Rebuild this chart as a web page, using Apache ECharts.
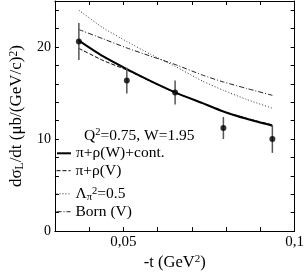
<!DOCTYPE html>
<html>
<head>
<meta charset="utf-8">
<script src="https://cdn.jsdelivr.net/npm/echarts@6/dist/echarts.min.js"></script>
<style>
html,body{margin:0;padding:0;background:#fff;}
#chart{width:307px;height:276px;}
</style>
</head>
<body>
<div id="chart"></div>
<script>
// ---- data ----
const tCurve = [0.037, 0.044, 0.051, 0.058, 0.0651, 0.0731, 0.0792, 0.086, 0.0935];
const fullModel = [20.7, 19.0, 17.6, 16.3, 15.08, 13.9, 13.0, 12.2, 11.45];
const rhoV = [19.85, 18.55, 17.5, 16.25, 15.05, 13.9, 13.0, 12.25, 11.55];
const lambda05 = [24.0, 22.1, 20.6, 19.2, 17.9, 16.3, 15.3, 14.3, 13.35];
const bornV = [21.9, 20.9, 19.9, 19.0, 18.1, 16.95, 16.2, 15.5, 14.75];

const tData = [0.037, 0.051, 0.0651, 0.0792, 0.0935];
const sigmaData = [20.6, 16.35, 15.05, 11.2, 10.0];
const sigmaErr = [2.0, 1.4, 1.3, 1.2, 1.5];

const xTickLabels = [0.05, 0.1];
const yTickLabels = [0, 10, 20];

const seriesNames = ['π+ρ(W)+cont.', 'π+ρ(V)', 'Λπ2=0.5', 'Born (V)'];
// ---------------

const FONT = "'Liberation Serif', 'DejaVu Serif', serif";
const pair = (xs, ys) => xs.map((x, i) => [x, ys[i]]);

function makeRich(size, small, shift) {
  return {
    n: {fontFamily: FONT, fontSize: size, color: '#000'},
    sup: {fontFamily: FONT, fontSize: small, color: '#000', verticalAlign: 'top', padding: [0, 0, shift, 0]},
    sub: {fontFamily: FONT, fontSize: small, color: '#000', verticalAlign: 'bottom', padding: [shift, 0, 0, 0]}
  };
}
const richLegend = makeRich(15.5, 10.5, 6);
const richAxis = makeRich(16.5, 11, 6);
const richY = makeRich(17, 11.5, 6);

function legendFmt(name) {
  if (name === 'Λπ2=0.5') return '{n|Λ}{sub|π}{sup|2}{n|=0.5}';
  return '{n|' + name + '}';
}

const legendRows = [152.3, 169.7, 192.3, 210.7];
const legendWidths = [2, 1, 1, 1];
const legends = seriesNames.map((nm, i) => ({
  data: [nm],
  left: 56,
  top: legendRows[i] - 7,
  itemWidth: 14,
  itemHeight: 14,
  padding: 0,
  selectedMode: false,
  formatter: legendFmt,
  textStyle: {fontFamily: FONT, fontSize: 15.5, color: '#000', rich: richLegend},
  itemStyle: {opacity: 0, color: 'transparent', borderWidth: 0},
  lineStyle: {width: legendWidths[i]}
}));

const axisBase = {
  type: 'value',
  axisLine: {show: true, onZero: false, lineStyle: {color: '#000', width: 1}},
  axisTick: {show: true, inside: true, length: 4, lineStyle: {color: '#000', width: 1}},
  splitLine: {show: false}
};

const chart = echarts.init(document.getElementById('chart'), null, {renderer: 'canvas'});
chart.setOption({
  animation: false,
  backgroundColor: '#fff',
  grid: {left: 47, right: 11, top: 1, bottom: 40, containLabel: false},
  title: {
    text: '{n|Q}{sup|2}{n|=0.75, W=1.95}',
    left: 84,
    top: 127,
    padding: 0,
    textStyle: {fontFamily: FONT, fontSize: 15.5, color: '#000', fontWeight: 'normal', rich: richLegend}
  },
  legend: legends,
  xAxis: [
    Object.assign({}, axisBase, {
      position: 'bottom', min: 0.03, max: 0.1, interval: 0.01,
      axisLabel: {
        show: true, customValues: xTickLabels, margin: 3,
        fontFamily: FONT, fontSize: 15, color: '#000',
        formatter: v => String(+v.toFixed(2)).replace('.', ',')
      },
      name: '{n|-t (GeV}{sup|2}{n|)}',
      nameLocation: 'middle',
      nameGap: 14,
      nameTextStyle: {fontFamily: FONT, fontSize: 16.5, color: '#000', rich: richAxis, verticalAlign: 'top'}
    }),
    Object.assign({}, axisBase, {
      position: 'top', min: 0.03, max: 0.1, interval: 0.01,
      axisLabel: {show: false}
    })
  ],
  yAxis: [
    Object.assign({}, axisBase, {
      position: 'left', min: 0, max: 25, interval: 2,
      axisLabel: {
        show: true, customValues: yTickLabels, margin: 4,
        fontFamily: FONT, fontSize: 14, color: '#000'
      },
      name: '{n|dσ}{sub|L}{n|/dt (μb/(GeV/c)}{sup|2}{n|)}',
      nameLocation: 'middle',
      nameRotate: 90,
      nameGap: 24,
      nameTextStyle: {fontFamily: FONT, fontSize: 17, color: '#000', rich: richY}
    }),
    Object.assign({}, axisBase, {
      position: 'right', min: 0, max: 25, interval: 2,
      axisLabel: {show: false}
    })
  ],
  series: [
    {
      name: seriesNames[0], type: 'line', symbol: 'none', smooth: 0.2,
      data: pair(tCurve, fullModel),
      lineStyle: {color: '#000', width: 2, type: 'solid'}, itemStyle: {color: '#000'}, z: 5
    },
    {
      name: seriesNames[1], type: 'line', symbol: 'none', smooth: 0.2,
      data: pair(tCurve, rhoV),
      lineStyle: {color: '#000', width: 1, type: [4, 2]}, itemStyle: {color: '#000'}, z: 4
    },
    {
      name: seriesNames[2], type: 'line', symbol: 'none', smooth: 0.2,
      data: pair(tCurve, lambda05),
      lineStyle: {color: '#333', width: 1, type: [1, 2]}, itemStyle: {color: '#333'}, z: 3
    },
    {
      name: seriesNames[3], type: 'line', symbol: 'none', smooth: 0.2,
      data: pair(tCurve, bornV),
      lineStyle: {color: '#222', width: 1, type: [5, 2, 1, 2]}, itemStyle: {color: '#222'}, z: 3
    },
    {
      name: 'errors', type: 'custom',
      data: tData.map((t, i) => [t, sigmaData[i], sigmaErr[i]]),
      encode: {x: 0, y: 1},
      renderItem: (params, api) => {
        const x = api.value(0), y = api.value(1), e = api.value(2);
        const p1 = api.coord([x, y + e]);
        const p2 = api.coord([x, y - e]);
        return {
          type: 'line',
          shape: {x1: p1[0], y1: p1[1], x2: p2[0], y2: p2[1]},
          style: {stroke: '#555', lineWidth: 1.5}
        };
      },
      z: 6
    },
    {
      name: 'data', type: 'scatter', symbol: 'circle', symbolSize: 6,
      data: pair(tData, sigmaData),
      itemStyle: {color: '#000'}, z: 7
    }
  ]
});
</script>
</body>
</html>
